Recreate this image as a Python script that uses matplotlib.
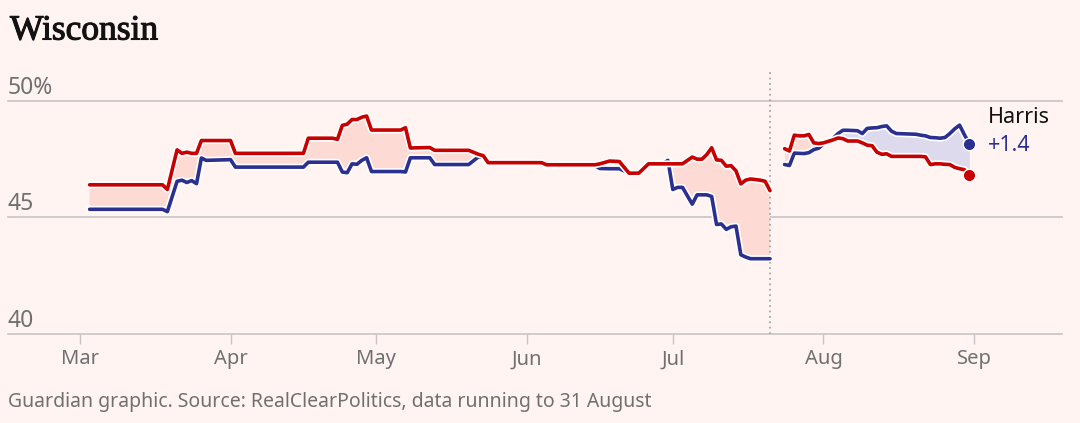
import matplotlib
matplotlib.use("Agg")
import matplotlib.pyplot as plt
import matplotlib.dates as mdates
import matplotlib.patheffects as pe
import numpy as np
import pandas as pd

# Wisconsin polling average, Trump (red) vs Biden / Harris (blue)
dates_biden = ["2024-03-03", "2024-03-18", "2024-03-19", "2024-03-21", "2024-03-22",
               "2024-03-23", "2024-03-24", "2024-03-25", "2024-03-26", "2024-03-27",
               "2024-04-01", "2024-04-02", "2024-04-16", "2024-04-17", "2024-04-22",
               "2024-04-23", "2024-04-24", "2024-04-25", "2024-04-26", "2024-04-27",
               "2024-04-28", "2024-04-29", "2024-04-30", "2024-05-06", "2024-05-07",
               "2024-05-08", "2024-05-12", "2024-05-13", "2024-05-20", "2024-05-22",
               "2024-05-23", "2024-05-24", "2024-06-04", "2024-06-05", "2024-06-15",
               "2024-06-16", "2024-06-18", "2024-06-20", "2024-06-22", "2024-06-24",
               "2024-06-26", "2024-06-29", "2024-06-30", "2024-07-01", "2024-07-02",
               "2024-07-03", "2024-07-05", "2024-07-06", "2024-07-07", "2024-07-08",
               "2024-07-09", "2024-07-10", "2024-07-11", "2024-07-12", "2024-07-13",
               "2024-07-14", "2024-07-15", "2024-07-16", "2024-07-17", "2024-07-19",
               "2024-07-20", "2024-07-21"]
trump_1 = [46.4, 46.4, 46.2, 47.9, 47.75,
           47.8, 47.75, 47.75, 48.3, 48.3,
           48.3, 47.75, 47.75, 48.4, 48.4,
           48.35, 48.95, 49.0, 49.2, 49.2,
           49.3, 49.35, 48.75, 48.75, 48.85,
           47.98, 48.0, 47.88, 47.88, 47.71,
           47.65, 47.35, 47.35, 47.26, 47.26,
           47.3, 47.42, 47.4, 46.9, 46.9,
           47.3, 47.3, 47.3, 47.3, 47.3,
           47.3, 47.59, 47.5, 47.5, 47.7,
           47.99, 47.47, 47.45, 47.2, 47.22,
           47.0, 46.44, 46.6, 46.65, 46.6,
           46.55, 46.15]
biden = [45.35, 45.35, 45.25, 46.55, 46.6,
         46.5, 46.58, 46.45, 47.55, 47.45,
         47.48, 47.16, 47.16, 47.37, 47.37,
         47.37, 46.95, 46.92, 47.3, 47.28,
         47.45, 47.56, 46.97, 46.97, 46.95,
         47.56, 47.56, 47.27, 47.27, 47.6,
         47.6, 47.32, 47.32, 47.22, 47.22,
         47.1, 47.09, 47.09, 46.9, 46.9,
         47.3, 47.3, 47.45, 46.2, 46.29,
         46.29, 45.57, 45.97, 45.97, 45.97,
         45.9, 44.7, 44.72, 44.49, 44.6,
         44.63, 43.4, 43.3, 43.23, 43.23,
         43.23, 43.23]

dates_harris = ["2024-07-24", "2024-07-25", "2024-07-26", "2024-07-27", "2024-07-28",
                "2024-07-29", "2024-07-30", "2024-07-31", "2024-08-01", "2024-08-03",
                "2024-08-04", "2024-08-05", "2024-08-06", "2024-08-07", "2024-08-08",
                "2024-08-09", "2024-08-10", "2024-08-11", "2024-08-12", "2024-08-13",
                "2024-08-14", "2024-08-15", "2024-08-16", "2024-08-20", "2024-08-21",
                "2024-08-22", "2024-08-23", "2024-08-24", "2024-08-25", "2024-08-26",
                "2024-08-27", "2024-08-28", "2024-08-29", "2024-08-30", "2024-08-31"]
trump_2 = [47.95, 47.85, 48.53, 48.5, 48.5,
           48.56, 48.2, 48.17, 48.2, 48.33,
           48.41, 48.38, 48.28, 48.28, 48.28,
           48.2, 48.1, 48.08, 47.8, 47.71,
           47.73, 47.62, 47.62, 47.62, 47.62,
           47.6, 47.27, 47.3, 47.3, 47.28,
           47.27, 47.15, 47.09, 47.05, 46.8]
harris = [47.27, 47.23, 47.76, 47.75, 47.74,
          47.78, 47.91, 47.97, 48.15, 48.4,
          48.6, 48.74, 48.74, 48.73, 48.72,
          48.6, 48.82, 48.84, 48.85, 48.9,
          48.93, 48.7, 48.6, 48.57, 48.53,
          48.5, 48.43, 48.42, 48.4, 48.43,
          48.6, 48.8, 48.96, 48.55, 48.17]

dropout_date = "2024-07-21"
y_ticks = [40, 45, 50]
y_labels = ["40", "45", "50%"]
lead_label = "+1.4"

BG = "#fff4f2"
RED = "#c70000"
BLUE = "#2b2f8f"
RED_FILL = "#fddad3"
BLUE_FILL = "#dedaee"
GRID = "#c6c4c4"
GREY = "#707070"

plt.rcParams["font.family"] = ["Noto Sans", "DejaVu Sans"]

fig = plt.figure(figsize=(10.8, 4.23), dpi=100, facecolor=BG)
ax = fig.add_axes([8 / 1080, (423 - 334) / 423, (1062 - 8) / 1080, (334 - 72) / 423])
ax.set_facecolor(BG)

outline = [pe.Stroke(linewidth=5, foreground="white"), pe.Normal()]

def draw_segment(dates, rep, dem):
    x = pd.to_datetime(dates)
    rep = np.array(rep)
    dem = np.array(dem)
    ax.fill_between(x, rep, dem, where=rep >= dem, interpolate=True,
                    color=RED_FILL, lw=0, zorder=1)
    ax.fill_between(x, rep, dem, where=dem > rep, interpolate=True,
                    color=BLUE_FILL, lw=0, zorder=1)
    ax.plot(x, dem, color=BLUE, lw=2.6, solid_joinstyle="round",
            solid_capstyle="round", path_effects=outline, zorder=3)
    ax.plot(x, rep, color=RED, lw=2.6, solid_joinstyle="round",
            solid_capstyle="round", path_effects=outline, zorder=4)
    return x

draw_segment(dates_biden, trump_1, biden)
xh = draw_segment(dates_harris, trump_2, harris)

# end dots
ax.plot(xh[-1], harris[-1], "o", ms=9, color=BLUE, mec="white", mew=1, zorder=5)
ax.plot(xh[-1], trump_2[-1], "o", ms=9, color=RED, mec="white", mew=1, zorder=5)

# Biden drops out
ax.axvline(pd.Timestamp(dropout_date), color="#a8a8a8", lw=1.3,
           linestyle=(0, (1, 2)), zorder=2)

# horizontal gridlines + labels sitting above them
for v, lab in zip(y_ticks, y_labels):
    ax.axhline(v, color=GRID, lw=1.2, zorder=0, clip_on=False)
    ax.text(0, v + 0.3, lab, transform=ax.get_yaxis_transform(),
            ha="left", va="baseline", fontsize=16.5, color=GREY)

ax.set_ylim(40, 51.24)
ax.set_xlim(pd.Timestamp("2024-02-15 05:00"), pd.Timestamp("2024-09-19 02:00"))
ax.set_yticks([])

ax.xaxis.set_major_locator(mdates.MonthLocator())
ax.xaxis.set_major_formatter(mdates.DateFormatter("%b"))
ax.tick_params(axis="x", length=7, width=1, color=GRID, labelcolor=GREY,
               labelsize=14.5, pad=4)
for s in ax.spines.values():
    s.set_visible(False)

# Harris label at the end
ax.text(xh[-1] + pd.Timedelta(days=3.8), 49.3, "Harris", fontsize=15.5,
        color="#121212", ha="left", va="center")
ax.text(xh[-1] + pd.Timedelta(days=3.8), 48.1, lead_label, fontsize=15.5,
        color=BLUE, ha="left", va="center")

# title: regular serif with a thin stroke to get a medium weight
fig.text(10 / 1080, 1 - 31 / 423, "Wisconsin", fontsize=25.5,
         family="Liberation Serif", color="#121212", ha="left", va="center",
         path_effects=[pe.withStroke(linewidth=0.8, foreground="#121212")])
fig.text(8 / 1080, 1 - 402 / 423,
         "Guardian graphic. Source: RealClearPolitics, data running to 31 August",
         fontsize=14, color=GREY, ha="left", va="center")

fig.savefig("out.png", dpi=100, facecolor=BG)
